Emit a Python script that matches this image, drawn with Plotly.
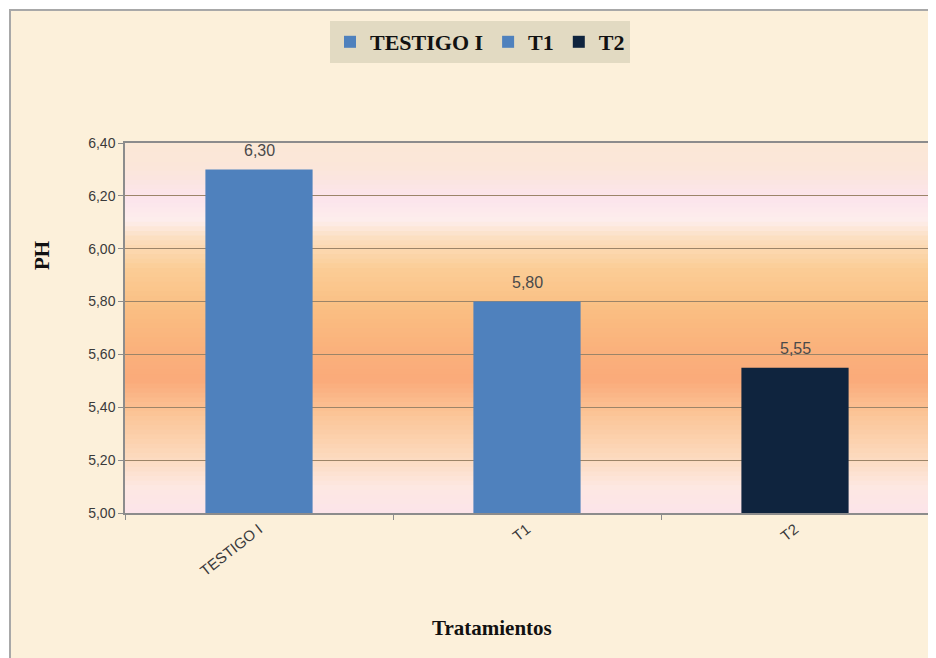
import plotly.graph_objects as go

categories = ["TESTIGO I", "T1", "T2"]
ph_values = [6.30, 5.80, 5.55]
bar_colors = ["#4F81BD", "#4F81BD", "#0F243E"]
y_ticks = [5.0, 5.2, 5.4, 5.6, 5.8, 6.0, 6.2, 6.4]

W, H = 936, 658
L, R, T, B = 125, 7, 143, 145    # target plot box in the screenshot
OFF = 8                          # page body margin
PW, PH = W - L - R, H - T - B

fig = go.Figure()
for cat, val, col in zip(categories, ph_values, bar_colors):
    fig.add_trace(go.Bar(
        x=[cat], y=[val], name=cat, marker=dict(color=col, line=dict(width=0)),
        width=0.4, showlegend=True, hoverinfo="x+y",
    ))

# value labels above the bars
annotations = [
    dict(x=cat, y=val, xref="x", yref="y", text=f"{val:.2f}".replace(".", ","), showarrow=False,
         yshift=19, font=dict(family="Liberation Sans, Arial", size=16, color="#4A4A4A"))
    for cat, val in zip(categories, ph_values)
]

# vertical gradient in plot background (fraction of plot height, colour)
stops = [
    (0.00, (252, 228, 234)),
    (0.07, (253, 232, 226)),
    (0.15, (252, 218, 190)),
    (0.27, (251, 196, 150)),
    (0.36, (250, 170, 122)),
    (0.45, (250, 178, 124)),
    (0.55, (250, 190, 130)),
    (0.66, (251, 205, 150)),
    (0.74, (252, 222, 190)),
    (0.79, (253, 238, 236)),
    (0.85, (252, 228, 236)),
    (0.93, (251, 230, 218)),
    (1.00, (251, 232, 214)),
]

def interp(f):
    for (f0, c0), (f1, c1) in zip(stops[:-1], stops[1:]):
        if f0 <= f <= f1:
            t = (f - f0) / (f1 - f0) if f1 > f0 else 0
            return "rgb(%d,%d,%d)" % tuple(round(a + (b - a) * t) for a, b in zip(c0, c1))
    return "rgb(%d,%d,%d)" % stops[-1][1]

def px_x(x):
    return (x - L) / PW

def px_y(y):
    return (H - B - y) / PH

N = 80
shapes = []
shapes.append(dict(type="rect", xref="paper", yref="paper", x0=px_x(10), x1=px_x(960), y0=px_y(670), y1=px_y(10),
                   fillcolor="#FCF0DA", line=dict(color="#A8A8A8", width=2), layer="below"))
for i in range(N):
    a, b = i / N, (i + 1) / N
    shapes.append(dict(type="rect", xref="x domain", yref="y domain", x0=0, x1=1, y0=a, y1=b + 0.002,
                       fillcolor=interp((a + b) / 2), line=dict(width=0), layer="below"))

annotations += [
    dict(text="<b>PH</b>", xref="paper", yref="paper", x=px_x(42), y=px_y(256),
         textangle=-90, showarrow=False, xanchor="center", yanchor="middle",
         font=dict(family="Liberation Serif, Times New Roman", size=21, color="#111111")),
    dict(text="<b>Tratamientos</b>", xref="paper", yref="paper", x=px_x(492), y=px_y(628),
         showarrow=False, xanchor="center", yanchor="middle",
         font=dict(family="Liberation Serif, Times New Roman", size=21, color="#111111")),
]

fig.update_layout(
    width=W, height=H,
    margin=dict(l=L - OFF, r=R + OFF, t=T - OFF, b=B + OFF),
    paper_bgcolor="white",
    plot_bgcolor="rgba(0,0,0,0)",
    barmode="overlay",
    shapes=shapes,
    legend=dict(
        orientation="h", x=px_x(480), xanchor="center", y=px_y(21), yanchor="top",
        bgcolor="#E2DAC2", borderwidth=0,
        font=dict(family="Liberation Serif, Times New Roman", size=22, color="#111111", weight="bold"),
        itemwidth=30, tracegroupgap=0,
    ),
    xaxis=dict(
        categoryorder="array", categoryarray=categories,
        tickangle=-38, tickfont=dict(family="Liberation Sans, Arial", size=15, color="#3A3A3A"),
        showline=True, mirror=True, linecolor="#8C8C8C", linewidth=1.5,
        ticks="outside", tickson="boundaries", ticklen=5, tickcolor="#8C8C8C",
        showgrid=False,
    ),
    yaxis=dict(
        range=[5.0, 6.4], tickvals=y_ticks, ticktext=[f"{v:.2f}".replace(".", ",") for v in y_ticks],
        tickfont=dict(family="Liberation Sans, Arial", size=14, color="#3A3A3A"),
        showline=True, mirror=True, linecolor="#8C8C8C", linewidth=1.5,
        ticks="outside", ticklen=5, tickcolor="#8C8C8C",
        showgrid=True, gridcolor="#9C8468", gridwidth=1.4, zeroline=False,
    ),
    annotations=annotations,
)

fig.write_html("out.html")
